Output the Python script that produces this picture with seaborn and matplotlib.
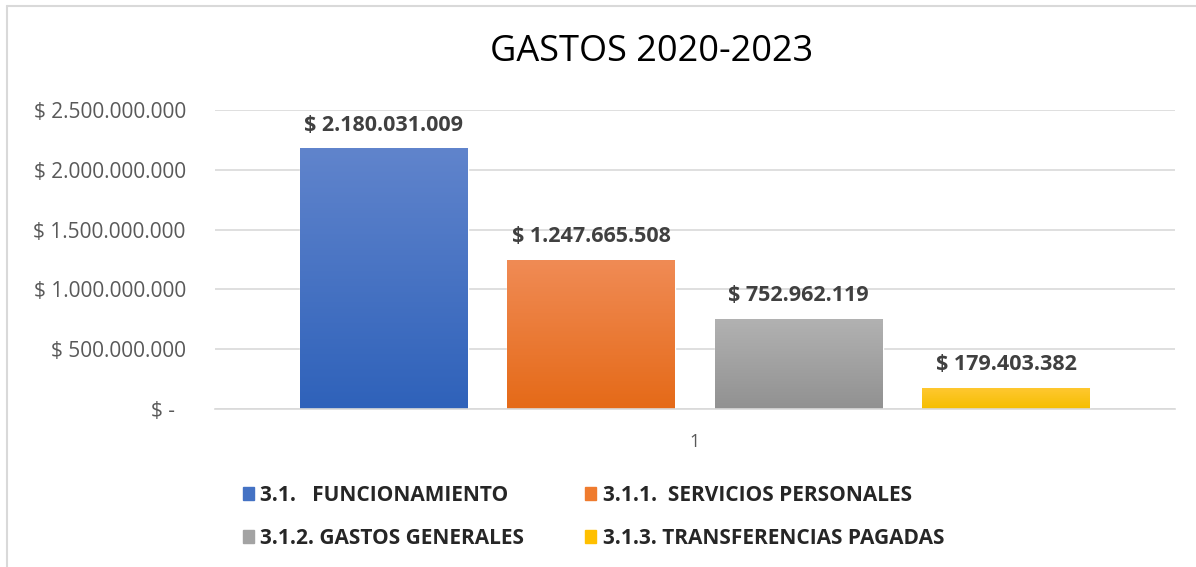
import matplotlib
matplotlib.use("Agg")
import matplotlib.pyplot as plt
import matplotlib.patches as mpatches
from matplotlib.colors import LinearSegmentedColormap
import numpy as np
import seaborn as sns
import pandas as pd

# data
categorias = ["3.1.   FUNCIONAMIENTO", "3.1.1.  SERVICIOS PERSONALES",
              "3.1.2. GASTOS GENERALES", "3.1.3. TRANSFERENCIAS PAGADAS"]
valores = [2180031009, 1247665508, 752962119, 179403382]
grupo = ["1", "1", "1", "1"]
colores = ["#4472C4", "#EF7B2E", "#A3A3A3", "#FFC000"]
# lighter top / darker bottom for the Excel-like gradient fill
grad_top = ["#6084CC", "#F08B55", "#B2B2B2", "#FFC832"]
grad_bot = ["#2F62BA", "#E56A18", "#919191", "#F5BE00"]
yticks = [0, 500000000, 1000000000, 1500000000, 2000000000, 2500000000]


def pesos(v):
    if v == 0:
        return "$ -  "
    return "$ " + f"{int(v):,}".replace(",", ".")


df = pd.DataFrame({"grupo": grupo, "categoria": categorias, "valor": valores})

sns.set_theme(style="white")
plt.rcParams["font.family"] = ["Open Sans", "DejaVu Sans"]

fig = plt.figure(figsize=(11.96, 5.67), dpi=100)
ax = fig.add_axes([215 / 1196, 1 - 409 / 567, 960 / 1196, 299 / 567])

sns.barplot(data=df, x="grupo", y="valor", hue="categoria", palette=colores,
            width=0.864, gap=0.19, saturation=1, legend=False, ax=ax)

ax.set_ylim(0, 2500000000)
ax.set_xlim(-0.5, 0.5)

# gradient fill on each bar
for i, cont in enumerate(ax.containers):
    cmap = LinearSegmentedColormap.from_list("g", [grad_bot[i], grad_top[i]])
    for p in cont.patches:
        x0, y0 = p.get_x(), p.get_y()
        w, h = p.get_width(), p.get_height()
        img = ax.imshow(np.linspace(0, 1, 100).reshape(-1, 1), cmap=cmap,
                        origin="lower", extent=[x0, x0 + w, y0, y0 + h],
                        aspect="auto", zorder=p.get_zorder() + 0.1)
        img.set_clip_path(p)
    ax.bar_label(cont, labels=[pesos(v) for v in cont.datavalues], padding=9,
                 fontsize=15.5, fontweight="bold", color="#404040")

ax.set_xlim(-0.5, 0.5)
ax.set_ylim(0, 2500000000)
ax.set_yticks(yticks)
ax.set_yticklabels([pesos(v) for v in yticks])
ax.yaxis.grid(True, color="#D9D9D9", linewidth=1.2)
ax.set_axisbelow(True)
ax.tick_params(axis="y", labelsize=15, labelcolor="#595959", pad=21, length=0)
ax.tick_params(axis="x", labelsize=13, labelcolor="#595959", pad=17, length=0)
ax.set_xlabel("")
ax.set_ylabel("")
for s in ["top", "right", "left"]:
    ax.spines[s].set_visible(False)
ax.spines["bottom"].set_color("#D9D9D9")
ax.spines["bottom"].set_linewidth(1.2)

fig.text(652 / 1196, 1 - 52 / 567, "GASTOS 2020-2023", ha="center", va="center",
         fontsize=26, color="black")

# legend filled row by row like the reference
orden = [0, 2, 1, 3]
handles = [mpatches.Patch(color=colores[k], label=categorias[k]) for k in orden]
fig.legend(handles=handles, ncol=2, loc="center left",
           bbox_to_anchor=(224 / 1196, 1 - 517 / 567), frameon=False,
           prop={"weight": "bold", "size": 15}, handlelength=0.55, handleheight=0.55,
           handletextpad=0.3, columnspacing=2.9, labelspacing=1.05)

# chart border
fig.add_artist(plt.Line2D([6.5 / 1196, 1], [1 - 5.5 / 567, 1 - 5.5 / 567],
                          color="#D9D9D9", linewidth=1.5, transform=fig.transFigure))
fig.add_artist(plt.Line2D([6.5 / 1196, 6.5 / 1196], [0, 1 - 5.5 / 567],
                          color="#D9D9D9", linewidth=1.5, transform=fig.transFigure))

fig.savefig("out.png", dpi=100)
